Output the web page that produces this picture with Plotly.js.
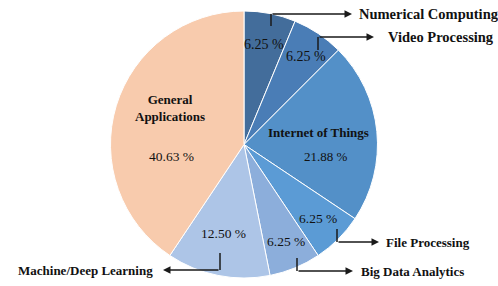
<!DOCTYPE html>
<html>
<head>
<meta charset="utf-8">
<script src="https://cdn.plot.ly/plotly-3.0.1.min.js"></script>
<style>html,body{margin:0;padding:0;background:#fff;}#chart{width:498px;height:286px;}</style>
</head>
<body>
<div id="chart"></div>
<script>
const categories = ["Numerical Computing","Video Processing","Internet of Things","File Processing","Big Data Analytics","Machine/Deep Learning","General Applications"];
const shares = [6.25, 6.25, 21.88, 6.25, 6.25, 12.50, 40.63];
const colors = ["#436d9b","#4a7db6","#5390c8","#5b9bd5","#8caedb","#adc5e7","#f8cbad"];

const W = 498, H = 286;
const cx = 244, cy = 144.5, R = 133.5;
const px = x => x / W;
const py = y => 1 - y / H;

const trace = {
  type: 'pie',
  values: shares,
  labels: categories,
  sort: false,
  direction: 'clockwise',
  rotation: 0,
  marker: {colors: colors, line: {color: '#ffffff', width: 1}},
  textinfo: 'none',
  hoverinfo: 'label+value',
  domain: {x: [px(cx - R), px(cx + R)], y: [py(cy + R), py(cy - R)]},
  showlegend: false
};

const total = shares.reduce((a, b) => a + b, 0);
const mids = [];
let acc = 0;
shares.forEach(v => { mids.push((acc + v / 2) / total * 360); acc += v; });
function polar(i, rf) {
  const a = mids[i] * Math.PI / 180;
  return [cx + R * rf * Math.sin(a), cy - R * rf * Math.cos(a)];
}

const serif = 'Liberation Serif';
const annotations = [];
const shapes = [];
const pctR = [0.76, 0.74, 0.62, 0.76, 0.78, 0.68, 0.52];
const pctDx = [0, 7, 0, 2, 2, -3, -6];
const pctDy = [0, -6, 20, 2, 1, 0, 32];
const pctSize = [14, 14, 13, 13.5, 13.5, 13.5, 13.5];
shares.forEach((v, i) => {
  const p = polar(i, pctR[i]);
  annotations.push({xref: 'paper', yref: 'paper', x: px(p[0] + pctDx[i]), y: py(p[1] + pctDy[i]), text: v.toFixed(2) + ' %',
    showarrow: false, xanchor: 'center', yanchor: 'middle', font: {family: serif, size: pctSize[i], color: '#111'}});
});
annotations.push({xref: 'paper', yref: 'paper', x: px(318), y: py(132), text: '<b>' + categories[2] + '</b>',
  showarrow: false, xanchor: 'center', yanchor: 'middle', font: {family: serif, size: 13, color: '#111'}});
annotations.push({xref: 'paper', yref: 'paper', x: px(170), y: py(108), text: '<b>General<br>Applications</b>',
  showarrow: false, xanchor: 'center', yanchor: 'middle', font: {family: serif, size: 13, color: '#111'}});

// [slice index, startX, startY, elbowY, endX, labelX, anchor, fontSize]
const callouts = [
  [0, 271, 26, 14, 352, 357, 'left', 14.5],
  [1, 318, 50, 37, 374, 386, 'left', 14.5],
  [3, 337, 229, 242, 379, 384, 'left', 13],
  [4, 297, 258, 271, 353, 359, 'left', 13],
  [5, 220, 253, 270, 163, 155, 'right', 13]
];
const lineColor = '#1a1a1a';
callouts.forEach(c => {
  const [i, sx, sy, ey, ex, lx, anchor, fs] = c;
  shapes.push({type: 'line', xref: 'paper', yref: 'paper', x0: px(sx), y0: py(sy), x1: px(sx), y1: py(ey),
    line: {color: lineColor, width: 1.5}});
  annotations.push({xref: 'paper', yref: 'paper', x: px(ex), y: py(ey), ax: sx - ex, ay: 0, axref: 'pixel', ayref: 'pixel',
    text: '', showarrow: true, arrowhead: 2, arrowsize: 1, arrowwidth: 1.5, arrowcolor: lineColor});
  annotations.push({xref: 'paper', yref: 'paper', x: px(lx), y: py(ey), text: '<b>' + categories[i] + '</b>',
    showarrow: false, xanchor: anchor, yanchor: 'middle', font: {family: serif, size: fs, color: '#111'}});
});

const layout = {
  width: W, height: H,
  margin: {l: 0, r: 0, t: 0, b: 0},
  paper_bgcolor: '#ffffff',
  font: {family: serif},
  showlegend: false,
  annotations: annotations,
  shapes: shapes
};
Plotly.newPlot('chart', [trace], layout, {displayModeBar: false, staticPlot: true});
</script>
</body>
</html>
